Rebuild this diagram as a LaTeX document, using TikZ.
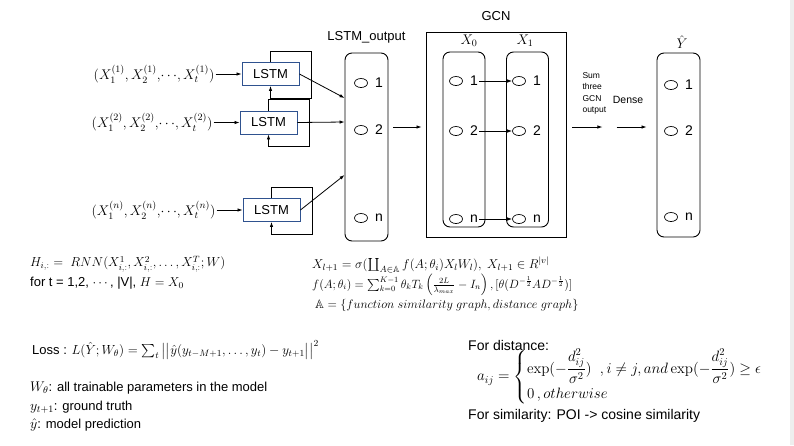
\RequirePackage{fix-cm}
\documentclass[tikz,border=0pt]{standalone}
\usepackage{amsmath,amssymb}
\usepackage[no-math]{fontspec}
\setmainfont{Liberation Sans}
\usetikzlibrary{arrows.meta,positioning,shapes.geometric}
\definecolor{lstmblue}{RGB}{47,82,143}
\definecolor{edgegray}{RGB}{238,238,238}
\newcommand{\mathsz}{\fontsize{14}{17}\selectfont}
\newcommand{\eqsz}{\fontsize{12.8}{15}\selectfont}

\begin{document}
\begin{tikzpicture}
    [x=1pt, y=-1pt, font=\fontsize{13}{15}\selectfont,
    >={Latex[length=5pt,width=3.5pt]},
    % STYLES
    % lstmbox is used for the recurrent cells
    lstmbox/.style={rectangle, draw=lstmblue, line width=0.9pt, minimum width=57pt, minimum height=23pt, inner sep=0pt},
    % layer is used for the rounded columns of units
    layer/.style={rectangle, rounded corners=7pt, draw, line width=0.9pt, minimum width=43pt},
    % unit is the small ellipse of one node, num its index
    unit/.style={ellipse, draw, line width=0.7pt, minimum width=13pt, minimum height=9pt, inner sep=0pt},
    num/.style={inner sep=1pt, node distance=6pt, font=\fontsize{14}{16}\selectfont},
    input/.style={inner sep=1pt, font=\mathsz},
    link/.style={->, line width=0.8pt},
    formula/.style={anchor=west, inner sep=0pt},
    note/.style={anchor=west, inner sep=0pt, font=\fontsize{14}{16}\selectfont}]

    \useasboundingbox (0,0) rectangle (794,445);
    \fill[edgegray] (790,0) rectangle (794,445);

    % Draw the LSTM cells and their inputs
    \node [lstmbox] (lstm1) at (270.5,74) {LSTM};
    \node [lstmbox] (lstm2) at (268.5,122.5) {LSTM};
    \node [lstmbox] (lstmn) at (271.5,210) {LSTM};
    \node [input, left=26pt of lstm1] (in1) {$(X_1^{(1)}, X_2^{(1)},\!\cdots\!, X_t^{(1)})$};
    \node [input, left=26pt of lstm2] (in2) {$(X_1^{(2)}, X_2^{(2)},\!\cdots\!, X_t^{(2)})$};
    \node [input, left=26pt of lstmn] (inn) {$(X_1^{(n)}, X_2^{(n)},\!\cdots\!, X_t^{(n)})$};
    \foreach \b in {lstm1,lstm2,lstmn}
        \draw[link] (\b.north) |- ++(41,-11) |- ++(-41,47) -- (\b.south);

    % Draw the LSTM output layer
    \node [layer, minimum height=188pt] (lstmout) at (366.5,147) {};
    \node [above=6pt of lstmout] (lstmtitle) {LSTM\_output};
    \foreach \i/\y in {1/83, 2/130, n/218} {
        \node [unit] (lo\i) at (361,\y) {};
        \node [num, right=of lo\i] (lon\i) {\i};
    }

    % Draw the GCN block
    \node [rectangle, draw, line width=0.9pt, minimum width=140pt, minimum height=205pt] (gcn) at (496,134.5) {};
    \node [above=7pt of gcn] (gcntitle) {GCN};
    \node [layer, minimum width=42pt, minimum height=175pt] (x0) at (464,139.5) {};
    \node [layer, minimum width=42pt, minimum height=175pt] (x1) at (527.5,139.5) {};
    \node [font=\mathsz] (x0title) at (469,41) {$X_0$};
    \node [font=\mathsz] (x1title) at (525,41) {$X_1$};
    \foreach \i/\y in {1/81, 2/131, n/219} {
        \node [unit] (ga\i) at (456,\y) {};
        \node [num, right=of ga\i] (gan\i) {\i};
        \node [unit] (gb\i) at (519,\y) {};
        \node [num, right=of gb\i] (gbn\i) {\i};
        \draw[link] (gan\i) -- (gb\i);
    }

    % Draw the output layer
    \node [layer, minimum height=184pt] (yhat) at (678.5,145) {};
    \node [font=\mathsz] (yhattitle) at (682,42) {$\hat{Y}$};
    \foreach \i/\y in {1/85, 2/131, n/217} {
        \node [unit] (yo\i) at (671,\y) {};
        \node [num, right=of yo\i] (yon\i) {\i};
    }
    \node [align=left, anchor=west, font=\fontsize{8.5}{11.5}\selectfont] (sumtxt) at (579,93.5) {Sum\\three\\GCN\\output};
    \node [font=\fontsize{10.5}{12}\selectfont] (dense) at (628,100) {Dense};

    % Draw the links between layers
    \path[link]
    (in1) edge (lstm1)
    (in2) edge (lstm2)
    (inn) edge (lstmn)
    (lstm1.east) edge ([yshift=49pt]lstmout.west)
    (lstm2.east) edge ([yshift=25pt]lstmout.west)
    (lstmn.east) edge ([yshift=-28pt]lstmout.west);
    \draw[link] ([xshift=5pt,yshift=20pt]lstmout.east) -- ([xshift=-4pt,yshift=7.5pt]gcn.west);
    \draw[link] ([xshift=6pt,yshift=7.5pt]gcn.east) -- ++(30,0);
    \draw[link] ([xshift=-10pt,yshift=18pt]yhat.west) ++(-30,0) -- ++(30,0);

    % Formulas
    \node [formula, font=\fontsize{13}{15}\selectfont] (rnn) at (30,264) {$H_{i,:} =\ RNN(X^1_{i,:}, X^2_{i,:}, \dots, X^T_{i,:}; W)$};
    \node [formula] (fort) at (30,283) {for t = 1,2, $\cdots$, |V|, {\eqsz$H = X_0$}};
    \node [formula, font=\eqsz] (gconv) at (312,265) {$X_{l+1} = \sigma(\coprod_{A\in\mathbb{A}} f(A;\theta_i)X_lW_l),\ X_{l+1}\in R^{|v|}$};
    \node [formula, font=\fontsize{12}{15}\selectfont] (cheb) at (312,285) {$f(A;\theta_i) = \sum_{k=0}^{K-1}\theta_k T_k\left(\frac{2L}{\lambda_{max}} - I_n\right), [\theta(D^{-\frac12}AD^{-\frac12})]$};
    \node [formula, font=\fontsize{12.3}{15}\selectfont] (graphs) at (315,305) {$\mathbb{A} = \{function\ similarity\ graph, distance\ graph\}$};
    \node [formula] (loss) at (32,350) {Loss : {\fontsize{13.2}{16}\selectfont$L(\hat{Y}; W_\theta) = \sum_t \big|\big|\hat{y}(y_{t-M+1}, \dots, y_t) - y_{t+1}\big|\big|^2$}};
    \node [formula] (wdef) at (30,388) {{\mathsz$W_\theta$}: all trainable parameters in the model};
    \node [formula] (ydef) at (30,407) {{\mathsz$y_{t+1}$}: ground truth};
    \node [formula] (yhatdef) at (30,425) {{\mathsz$\hat{y}$}: model prediction};
    \node [note] (distlab) at (468,345) {For distance:};
    \node [formula, font=\fontsize{15}{18}\selectfont] (adj) at (477,377) {$a_{ij} = \begin{cases} \exp(-\dfrac{d_{ij}^2}{\sigma^2})\ \ , i \neq j, and \exp(-\dfrac{d_{ij}^2}{\sigma^2}) \geq \epsilon \\ 0\,, otherwise \end{cases}$};
    \node [note] (simlab) at (468,416) {For similarity: POI -> cosine similarity};
\end{tikzpicture}
\end{document}
